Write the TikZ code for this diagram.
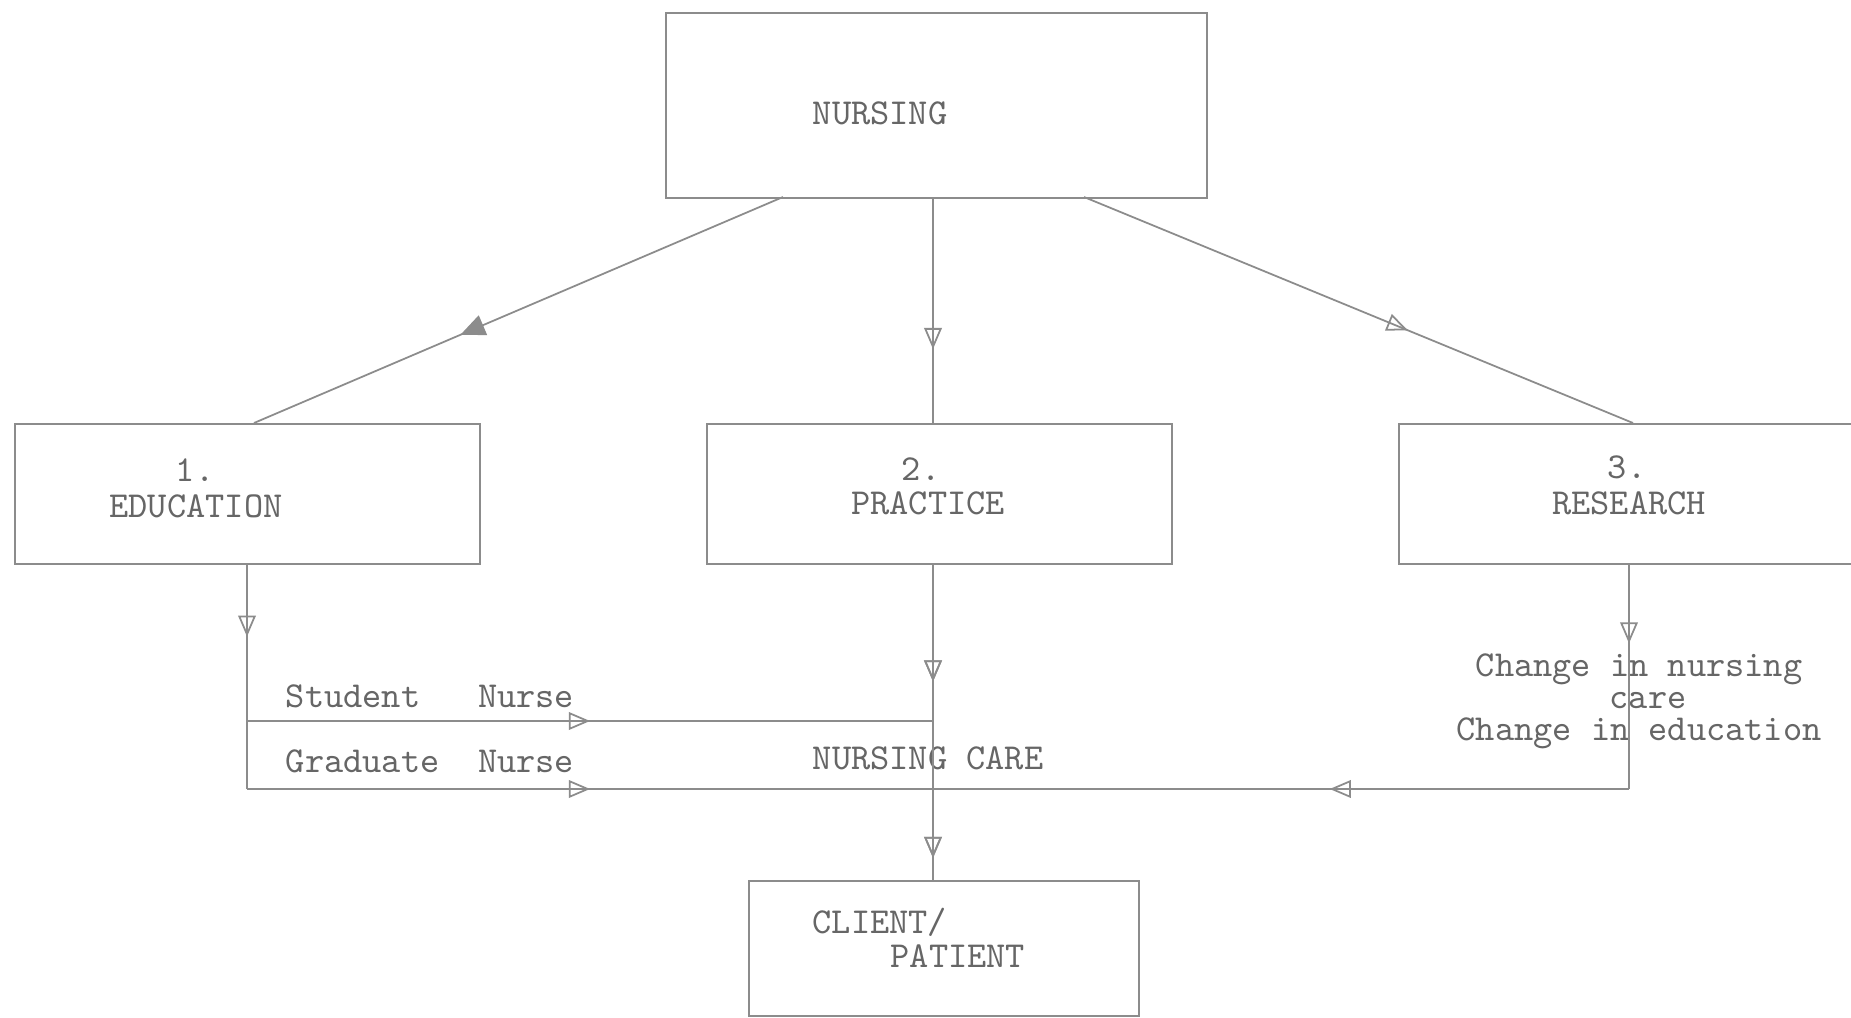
\documentclass[tikz,border=0pt]{standalone}
\usepackage{fontspec}
\usetikzlibrary{arrows.meta,decorations.markings}
\definecolor{ink}{gray}{0.40}
\definecolor{lineink}{gray}{0.55}
\tikzset{
  box/.style={draw=lineink, line width=0.55pt, rectangle, inner sep=0pt, anchor=north west},
  conn/.style={draw=lineink, line width=0.5pt},
  lbl/.style={text=ink, font=\ttfamily\fontsize{10.4}{12}\selectfont, inner sep=0pt, anchor=base, align=center},
  midarrow/.style={postaction={decorate}, decoration={markings, mark=at position #1 with {\arrow[lineink]{Triangle[open,length=6pt,width=5pt]}}}},
  fillarrow/.style={postaction={decorate}, decoration={markings, mark=at position #1 with {\arrow[lineink]{Triangle[length=7pt,width=6pt]}}}}
}
\begin{document}
\begin{tikzpicture}[x=0.01cm,y=-0.01cm]
\fill[white] (0,0) rectangle (1851,1018);
\clip (0,0) rectangle (1851,1018);

% boxes
\node[box, minimum width=5.41cm, minimum height=1.85cm] (nursing) at (665,12) {};
\node[box, minimum width=4.65cm, minimum height=1.40cm] (edu) at (14,423) {};
\node[box, minimum width=4.65cm, minimum height=1.40cm] (prac) at (706,423) {};
\node[box, minimum width=4.70cm, minimum height=1.40cm] (res) at (1398,423) {};
\node[box, minimum width=3.90cm, minimum height=1.35cm] (client) at (748,880) {};

% texts
\node[lbl] (tnursing) at (880,124) {NURSING};
\node[lbl] (tone) at (195,481) {1.};
\node[lbl] (tedu) at (196,517) {EDUCATION};
\node[lbl] (ttwo) at (921,480) {2.};
\node[lbl] (tprac) at (928,514) {PRACTICE};
\node[lbl] (tthree) at (1627,478) {3.};
\node[lbl] (tres) at (1629,514) {RESEARCH};
\node[lbl, anchor=base west] (tclient) at (812,933) {CLIENT/};
\node[lbl, anchor=base west] (tpatient) at (890,967) {PATIENT};
\node[lbl] (tstudent) at (430,707) {Student\ \ \ Nurse};
\node[lbl] (tgrad) at (430,772) {Graduate\ \ Nurse};
\node[lbl] (tcare) at (928,769) {NURSING CARE};
\node[lbl] (tch1) at (1639,676) {Change in nursing};
\node[lbl] (tch2) at (1648,708) {care};
\node[lbl] (tch3) at (1639,740) {Change in education};

% coordinates
\coordinate (nA) at (783,197);
\coordinate (eA) at (254,423);
\coordinate (nC) at (1084,197);
\coordinate (rA) at (1633,423);
\coordinate (eCorner) at (247,789);
\coordinate (sStart) at (247,721);
\coordinate (sEnd) at (933,721);
\coordinate (gMid) at (933,789);
\coordinate (rCorner) at (1629,789);

% connectors
\draw[conn, fillarrow=0.61] (nA) -- (eA);
\draw[conn, midarrow=0.67] (nursing.south -| sEnd) -- (prac.north -| sEnd);
\draw[conn, midarrow=0.59] (nC) -- (rA);
\draw[conn, midarrow=0.32] (edu.south -| eCorner) -- (eCorner);
\draw[conn, midarrow=0.50] (sStart) -- (sEnd);
\draw[conn, midarrow=0.50] (eCorner) -- (gMid);
\draw[conn, midarrow=0.37, midarrow=0.93] (prac.south -| sEnd) -- (client.north -| sEnd);
\draw[conn, midarrow=0.35] (res.south -| rCorner) -- (rCorner);
\draw[conn, midarrow=0.43] (rCorner) -- (gMid);
\end{tikzpicture}
\end{document}
